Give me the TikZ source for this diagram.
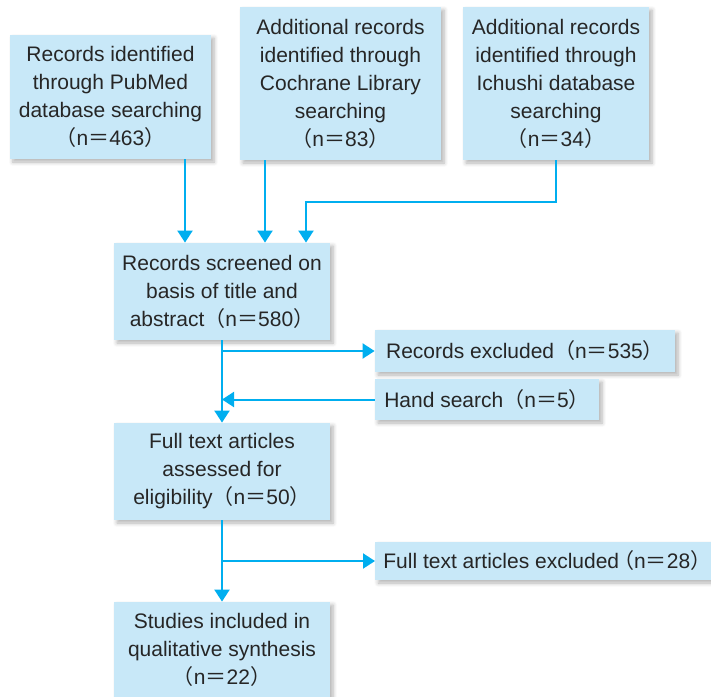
\documentclass[tikz,border=0pt]{standalone}
\usepackage{fontspec}
\setmainfont{Liberation Sans}
\newfontfamily\cjk{Noto Sans CJK JP}
\usetikzlibrary{positioning}
\usetikzlibrary{arrows.meta}
\usetikzlibrary{shadows.blur}
\definecolor{boxfill}{HTML}{C8E8F8}
\definecolor{linecyan}{HTML}{00AEEF}
\definecolor{txt}{HTML}{262626}
\newcommand{\nn}[1]{{\cjk （}n{\cjk ＝}#1{\cjk ）}}
\tikzset{box/.style={fill=boxfill, text=txt, align=center, inner sep=0pt,
  font=\fontsize{10.5}{14}\selectfont,
  blur shadow={shadow xshift=1.5pt, shadow yshift=-1.5pt, shadow blur steps=6, shadow opacity=30}}}
\tikzset{arr/.style={draw=linecyan, line width=1pt, -{Triangle[width=7.5pt,length=6pt]}}}

\begin{document}
\begin{tikzpicture}[x=0.5pt,y=-0.5pt]
\useasboundingbox (0,0) rectangle (711,696);

\node[box, minimum width=100.5pt, minimum height=62pt] (pubmed) at (110.5,97)
 {Records identified\\through PubMed\\database searching\\\nn{463}};
\node[box, minimum width=100.5pt, minimum height=76.5pt] (cochrane) at (340.5,83.5)
 {Additional records\\identified through\\Cochrane Library\\searching\\\nn{83}};
\node[box, minimum width=93pt, minimum height=76.5pt] (ichushi) at (556,83.5)
 {Additional records\\identified through\\Ichushi database\\searching\\\nn{34}};

\node[box, minimum width=108pt, minimum height=48.5pt] (screened) at (222,291.5)
 {Records screened on\\basis of title and\\abstract\nn{580}};
\node[box, minimum width=150pt, minimum height=21pt] (excl1) at (525,351)
 {Records excluded\nn{535}};
\node[box, minimum width=112pt, minimum height=20.5pt] (hand) at (487,399.5)
 {Hand search\nn{5}};
\node[box, minimum width=108pt, minimum height=48.5pt] (full) at (222,471.5)
 {Full text articles\\assessed for\\eligibility\nn{50}};
\node[box, anchor=west, inner xsep=4pt, minimum height=19pt] (excl2) at (375,561)
 {Full text articles excluded\kern-3pt\nn{28}};
\node[box, minimum width=108pt, minimum height=48pt] (studies) at (222,650)
 {Studies included in\\qualitative synthesis\\\nn{22}};

\coordinate (colA) at (185,0);
\coordinate (colB) at (265,0);
\coordinate (joint) at (306,202);

\draw[arr] (pubmed.south -| colA) -- (screened.north -| colA);
\draw[arr] (cochrane.south -| colB) -- (screened.north -| colB);
\draw[arr] (ichushi.south) |- (joint) -- (screened.north -| joint);

\draw[arr] (screened) -- (full);
\draw[arr] (screened.south |- excl1.west) -- (excl1.west);
\draw[arr] (hand.west) -- (hand.west -| screened.south);

\draw[arr] (full) -- (studies);
\draw[arr] (full.south |- excl2.west) -- (excl2.west);
\end{tikzpicture}
\end{document}
